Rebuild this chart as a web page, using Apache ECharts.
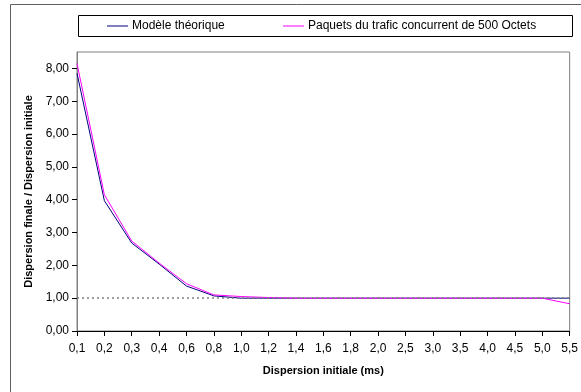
<!DOCTYPE html>
<html><head><meta charset="utf-8">
<script src="https://cdn.jsdelivr.net/npm/echarts@6/dist/echarts.min.js"></script>
<style>html,body{margin:0;padding:0;background:#fff}#c{width:581px;height:392px}</style>
</head><body><div id="c"></div>
<script>
const categories = ['0,1','0,2','0,3','0,4','0,6','0,8','1,0','1,2','1,4','1,6','1,8','2,0','2,5','3,0','3,5','4,0','4,5','5,0','5,5'];
const modeleTheorique = [7.85,3.97,2.68,2.04,1.37,1.07,1.0,1.0,1.0,1.0,1.0,1.0,1.0,1.0,1.0,1.0,1.0,1.0,1.0];
const paquets500 = [8.15,4.15,2.74,2.07,1.44,1.1,1.05,1.02,1.0,1.0,1.0,1.0,1.0,1.0,1.0,1.0,1.0,1.0,0.83];
const yTicks = [0,1,2,3,4,5,6,7,8];
const seriesNames = ['Modèle théorique','Paquets du trafic concurrent de 500 Octets'];
const refLine = 1;

const font = 'Liberation Sans, Arial, sans-serif';
const legendCommon = {
  top:20, padding:0, icon:'rect', itemWidth:21, itemHeight:1,
  textStyle:{fontFamily:font, fontSize:12, color:'#000', padding:[0,0,0,-1]}
};
const chart = echarts.init(document.getElementById('c'), null, {renderer:'canvas'});
chart.setOption({
  animation:false,
  backgroundColor:'#fff',
  graphic:[
    {type:'rect', shape:{x:10.5,y:4.5,width:620,height:420}, style:{fill:null, stroke:'#606060', lineWidth:1}, silent:true},
    {type:'rect', shape:{x:78.5,y:15.5,width:494,height:21}, style:{fill:null, stroke:'#000', lineWidth:1}, silent:true}
  ],
  legend:[
    Object.assign({left:107, data:[seriesNames[0]]}, legendCommon),
    Object.assign({left:283, data:[seriesNames[1]]}, legendCommon)
  ],
  grid:{left:77, top:52, right:10, bottom:61, show:true, borderColor:'#808080', borderWidth:1},
  xAxis:{
    type:'category', data:categories, boundaryGap:false,
    axisLine:{lineStyle:{color:'#000'}},
    axisTick:{inside:false, length:5, lineStyle:{color:'#000'}},
    axisLabel:{fontFamily:font, fontSize:12, color:'#000', margin:12, interval:0},
    name:'Dispersion initiale (ms)', nameLocation:'middle', nameGap:34,
    nameTextStyle:{fontFamily:font, fontSize:11, fontWeight:'bold', color:'#000'}
  },
  yAxis:{
    type:'value', min:0, max:8.5,
    axisLine:{show:true, lineStyle:{color:'#808080'}},
    axisTick:{show:true, length:5, lineStyle:{color:'#000'}, customValues:yTicks},
    axisLabel:{fontFamily:font, fontSize:12, color:'#000', margin:8, customValues:yTicks,
      formatter:v=>v.toFixed(2).replace('.',',')},
    splitLine:{show:false},
    name:'Dispersion finale / Dispersion initiale', nameLocation:'middle', nameGap:42,
    nameTextStyle:{fontFamily:font, fontSize:11, fontWeight:'bold', color:'#000'}
  },
  series:[
    {name:seriesNames[0], type:'line', data:modeleTheorique, symbol:'none',
     lineStyle:{color:'#000080', width:1}, itemStyle:{color:'#000080'},
     markLine:{silent:true, symbol:'none', label:{show:false},
       lineStyle:{color:'#808080', type:[2,3], width:1.5}, data:[{yAxis:refLine}]}, z:2},
    {name:seriesNames[1], type:'line', data:paquets500, symbol:'none',
     lineStyle:{color:'#FF00FF', width:1}, itemStyle:{color:'#FF00FF'}, z:3}
  ]
});
</script></body></html>
